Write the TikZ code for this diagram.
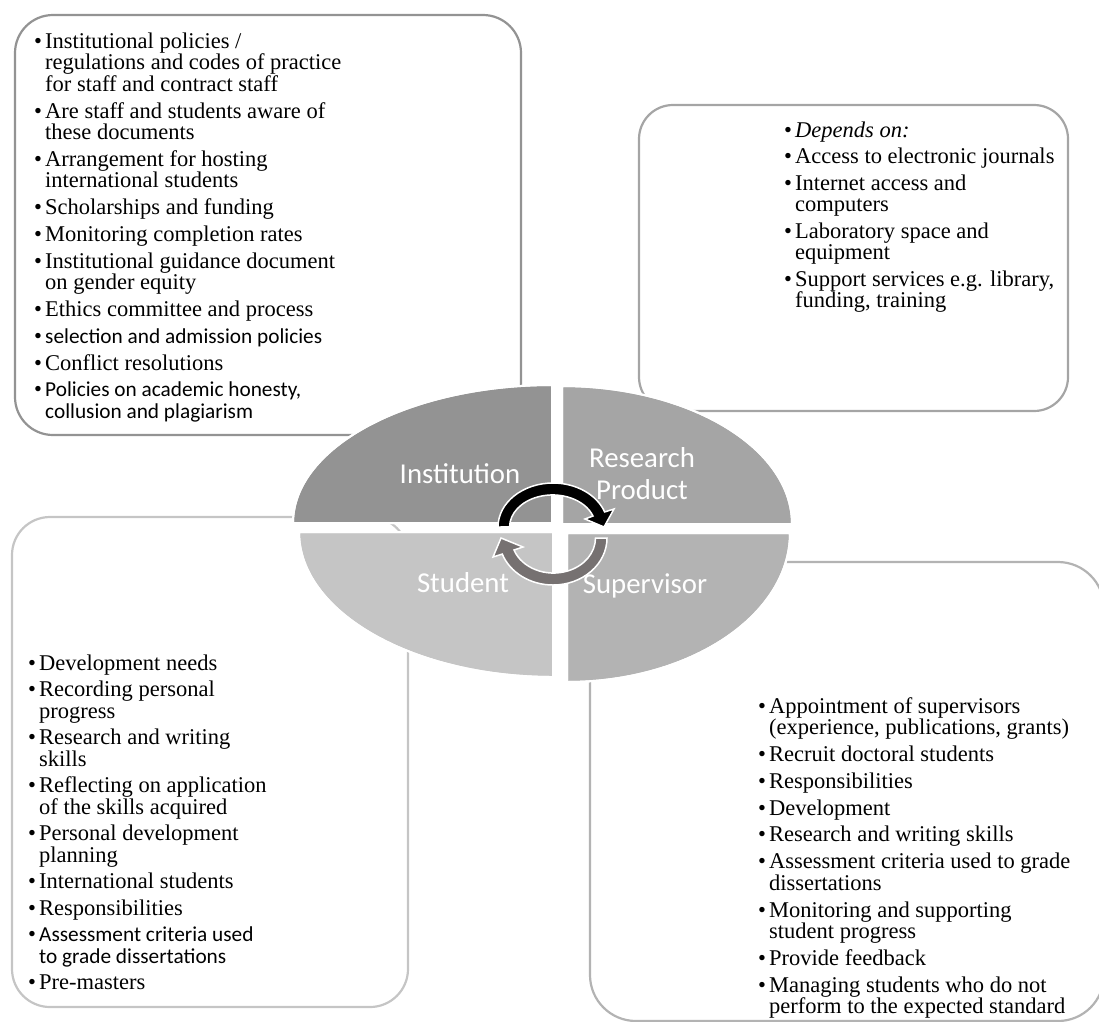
\documentclass[tikz,border=0pt]{standalone}
\usepackage{fontspec}
\setmainfont{Liberation Serif}
\newfontfamily\calibri{Carlito}
\usetikzlibrary{positioning}

\definecolor{instgray}{HTML}{939393}
\definecolor{resgray}{HTML}{A5A5A5}
\definecolor{supgray}{HTML}{B3B3B3}
\definecolor{stugray}{HTML}{C5C5C5}
\definecolor{cycgray}{HTML}{767171}

\newcommand{\itm}{\makebox[11pt][l]{\textbullet}}
\newcommand{\cnt}{\hspace*{11pt}}
\newcommand{\sans}{\calibri\fontsize{21.3}{21.5}\selectfont}

\begin{document}
\begin{tikzpicture}[x=1pt, y=-1pt]
		\tikzstyle{box} = [line width=2.2pt, rounded corners=38pt];
		\tikzstyle{quad} = [draw=white, line width=2pt];
		\tikzstyle{lbl} = [text=white, inner sep=0pt, align=center, font=\calibri\fontsize{28.8}{32}\selectfont];
		\tikzstyle{list} = [anchor=north west, inner sep=0pt, align=left, font=\fontsize{22.5}{21.5}\selectfont];
		\tikzstyle{cycle} = [draw=white, line width=1.5pt];
		
		\useasboundingbox (0,0) rectangle (1099,1021);
		\clip (0,0) rectangle (1099,1021);
		
		% outer boxes
		\draw[box, draw=instgray] (15,15) rectangle (521,435);
		\draw[box, draw=resgray, rounded corners=34pt] (639,105) rectangle (1068,411);
		\draw[box, draw=stugray] (12,517) rectangle (408,1007);
		\draw[box, draw=supgray, rounded corners=46pt] (590,562) rectangle (1104,1021);
		
		% centre ellipse in four parts
		\fill[quad, fill=instgray] (552,523) -- (293,523) arc[start angle=180, end angle=270, x radius=259, y radius=138] -- cycle;
		\fill[quad, fill=resgray] (562,524) -- (562,386) arc[start angle=270, end angle=360, x radius=230, y radius=138] -- cycle;
		\fill[quad, fill=stugray] (553,532) -- (553,677) arc[start angle=90, end angle=180, x radius=254, y radius=145] -- cycle;
		\fill[quad, fill=supgray] (567,533) -- (790,533) arc[start angle=0, end angle=90, x radius=223, y radius=149] -- cycle;
		\draw[quad] (552,523) -- (293,523) arc[start angle=180, end angle=270, x radius=259, y radius=138] -- cycle;
		\draw[quad] (562,524) -- (562,386) arc[start angle=270, end angle=360, x radius=230, y radius=138] -- cycle;
		\draw[quad] (553,532) -- (553,677) arc[start angle=90, end angle=180, x radius=254, y radius=145] -- cycle;
		\draw[quad] (567,533) -- (790,533) arc[start angle=0, end angle=90, x radius=223, y radius=149] -- cycle;
		
		\node[lbl, anchor=base] (institution) at (460,483) {Institution};
		\node[lbl] (research) at (642,474) {Research\\Product};
		\node[lbl, anchor=base] (student) at (463,592) {Student};
		\node[lbl, anchor=base] (supervisor) at (645,593) {Supervisor};
		
		% the two turning arrows
		\filldraw[cycle, fill=black] (498,527) arc[start angle=180, end angle=340, x radius=55, y radius=44] -- (614,509) -- (604,527) -- (585,519) -- (593,516) arc[start angle=340, end angle=180, x radius=43, y radius=32] -- cycle;
		\filldraw[cycle, fill=cycgray] (607,538) arc[start angle=0, end angle=160, x radius=54, y radius=47] -- (493,557) -- (501,538) -- (523,547) -- (514,550) arc[start angle=160, end angle=0, x radius=42, y radius=35] -- cycle;
		
		% lists
		\node[list] (instlist) at (34,32) {\rule{0pt}{16pt}\itm Institutional policies /\\
			\cnt regulations and codes of practice\\
			\cnt for staff and contract staff\\[5.3pt]
			\itm Are staff and students aware of\\
			\cnt these documents\\[5.3pt]
			\itm Arrangement for hosting\\
			\cnt international students\\[5.3pt]
			\itm Scholarships and funding\\[5.3pt]
			\itm Monitoring completion rates\\[5.3pt]
			\itm Institutional guidance document\\
			\cnt on gender equity\\[5.3pt]
			\itm Ethics committee and process\\[5.3pt]
			\itm{\sans selection and admission policies}\\[5.3pt]
			\itm Conflict resolutions\\[5.3pt]
			\itm{\sans Policies on academic honesty,}\\
			\cnt{\sans collusion and plagiarism}};
		
		\node[list] (reslist) at (784,121) {\rule{0pt}{16pt}\itm\textit{Depends on:}\\[5pt]
			\itm Access to electronic journals\\[5pt]
			\itm Internet access and\\
			\cnt computers\\[5pt]
			\itm Laboratory space and\\
			\cnt equipment\\[5pt]
			\itm Support services e.g. library,\\
			\cnt funding, training};
		
		\node[list] (stulist) at (28,654) {\rule{0pt}{16pt}\itm Development needs\\[5pt]
			\itm Recording personal\\
			\cnt progress\\[5pt]
			\itm Research and writing\\
			\cnt skills\\[5pt]
			\itm Reflecting on application\\
			\cnt of the skills acquired\\[5pt]
			\itm Personal development\\
			\cnt planning\\[5pt]
			\itm International students\\[5pt]
			\itm Responsibilities\\[5pt]
			\itm{\sans Assessment criteria used}\\
			\cnt{\sans to grade dissertations}\\[5pt]
			\itm Pre-masters};
		
		\node[list] (suplist) at (758,697) {\rule{0pt}{16pt}\itm Appointment of supervisors\\
			\cnt (experience, publications, grants)\\[5.3pt]
			\itm Recruit doctoral students\\[5.3pt]
			\itm Responsibilities\\[5.3pt]
			\itm Development\\[5.3pt]
			\itm Research and writing skills\\[5.3pt]
			\itm Assessment criteria used to grade\\
			\cnt dissertations\\[5.3pt]
			\itm Monitoring and supporting\\
			\cnt student progress\\[5.3pt]
			\itm Provide feedback\\[5.3pt]
			\itm Managing students who do not\\
			\cnt perform to the expected standard};
\end{tikzpicture}
\end{document}
